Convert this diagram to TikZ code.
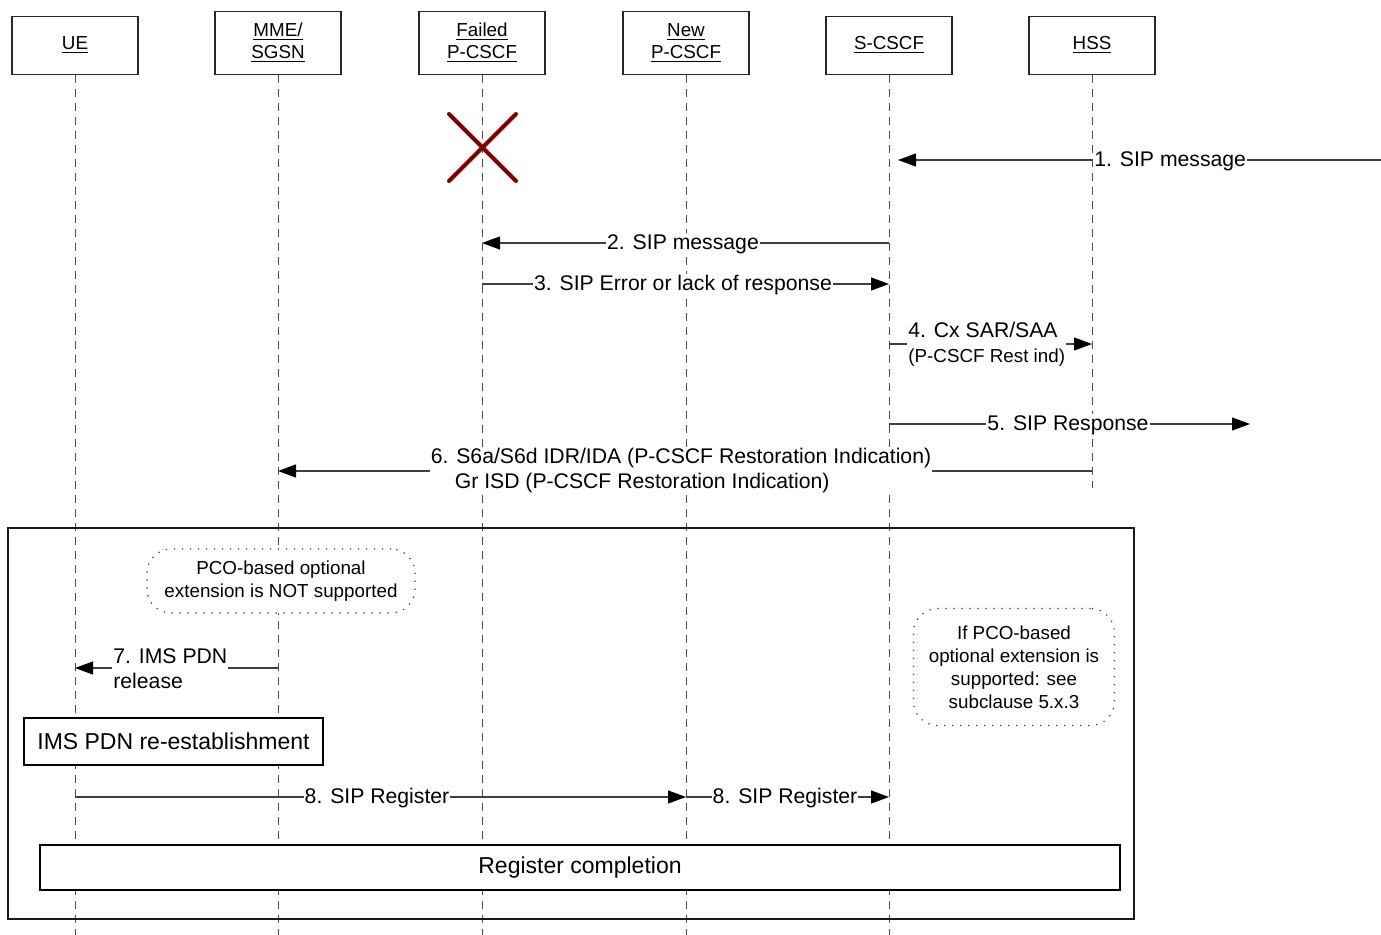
\documentclass[tikz,border=0pt]{standalone}
\usepackage{fontspec}
\setmainfont{Liberation Sans}
\usetikzlibrary{arrows.meta}

\definecolor{failred}{RGB}{128,0,0}

\tikzset{
  lifebox/.style={draw=black!85, line width=0.6pt, minimum width=63pt, anchor=south,
    align=center, inner sep=0pt, font=\fontsize{9.4}{11}\selectfont},
  lifeline/.style={draw=black!70, line width=0.5pt, dash pattern=on 4pt off 3pt},
  msg/.style={draw=black!75, line width=0.6pt, -{Triangle[length=9pt,width=6.5pt,black]}},
  msglabel/.style={fill=white, inner sep=0.5pt, font=\fontsize{10.6}{12.5}\selectfont},
  notebox/.style={draw=black!80, line width=0.6pt, dash pattern=on 0.6pt off 3.4pt,
    rounded corners=12pt, fill=white, align=center, font=\fontsize{9.4}{11.5}\selectfont},
  stepbox/.style={draw=black, line width=0.7pt, fill=white, font=\fontsize{11.5}{13}\selectfont},
}

\begin{document}
\begin{tikzpicture}[x=0.5pt, y=-0.5pt]
	\useasboundingbox (0,0) rectangle (1381,935);
	% Heads of the lifelines
	\node[lifebox, minimum height=29pt] (ue) at (75,75) {\underline{UE}};
	\node[lifebox, minimum height=31.5pt] (mme) at (278,75) {\underline{MME/}\\\underline{SGSN}};
	\node[lifebox, minimum height=31.5pt] (failed) at (482,75) {\underline{Failed}\\\underline{P-CSCF}};
	\node[lifebox, minimum height=31.5pt] (newp) at (686,75) {\underline{New}\\\underline{P-CSCF}};
	\node[lifebox, minimum height=29pt] (scscf) at (889,75) {\underline{S-CSCF}};
	\node[lifebox, minimum height=29pt] (hss) at (1092,75) {\underline{HSS}};
	% Lifelines
	\foreach \n in {ue,mme,failed,newp,scscf}
		\draw[lifeline] (\n.south) -- (\n.south |- 0,935);
	\draw[lifeline] (hss.south) -- (hss.south |- 0,488);
	% Failed P-CSCF
	\draw[failred, line width=2pt, line cap=round] (449,114) -- (516,181) (449,181) -- (516,114);
	% 1. and 2.
	\coordinate (m1src) at (1381,160);
	\draw[msg, shorten >=4.5pt] (m1src) -- (scscf |- m1src);
	\node[msglabel, anchor=west] (m1) at (1093,161) {1. SIP message};
	\draw[msg] (scscf |- 0,243) -- (failed |- 0,243);
	\node[msglabel] (m2) at (683,244) {2. SIP message};
	% 3. and 4.
	\draw[msg] (failed |- 0,284) -- (scscf |- 0,284);
	\node[msglabel] (m3) at (683,285) {3. SIP Error or lack of response};
	\draw[msg] (scscf |- 0,344) -- (hss |- 0,344);
	\node[msglabel, anchor=west, align=left] (m4) at (907,344)
		{4. Cx SAR/SAA\\[0pt]{\fontsize{9.4}{11}\selectfont (P-CSCF Rest ind)}};
	% 5. and 6.
	\coordinate (m5dst) at (1250,424);
	\draw[msg] (scscf |- m5dst) -- (m5dst);
	\node[msglabel] (m5) at (1068,425) {5. SIP Response};
	\draw[msg] (hss |- 0,471) -- (mme |- 0,471);
	\node[msglabel, align=left] (m6) at (681,471)
		{6. S6a/S6d IDR/IDA (P-CSCF Restoration Indication)\\\hspace*{12pt}Gr ISD (P-CSCF Restoration Indication)};
	% Restoration frame
	\draw[black!90, line width=0.8pt] (8,528) rectangle (1134,919);
	\node[notebox, minimum width=134pt, minimum height=32pt] (noteA) at (281,581)
		{PCO-based optional\\extension is NOT supported};
	\node[notebox, minimum width=100.5pt, minimum height=58.5pt] (noteB) at (1014,667)
		{If PCO-based\\optional extension is\\supported: see\\subclause 5.x.3};
	% 7.
	\draw[msg] (mme |- 0,668) -- (ue |- 0,668);
	\node[msglabel, anchor=west, align=left] (m7) at (112,669) {7. IMS PDN\\release};
	\node[stepbox, minimum width=149.5pt, minimum height=23.5pt] (reest) at (173.5,741.5)
		{IMS PDN re-establishment};
	% 8.
	\draw[msg] (ue |- 0,797) -- (newp |- 0,797);
	\node[msglabel] (m8a) at (377,798) {8. SIP Register};
	\draw[msg] (newp |- 0,797) -- (scscf |- 0,797);
	\node[msglabel] (m8b) at (785,798) {8. SIP Register};
	\node[stepbox, minimum width=540pt, minimum height=22.5pt] (regdone) at (580,867.5)
		{Register completion};
\end{tikzpicture}
\end{document}
